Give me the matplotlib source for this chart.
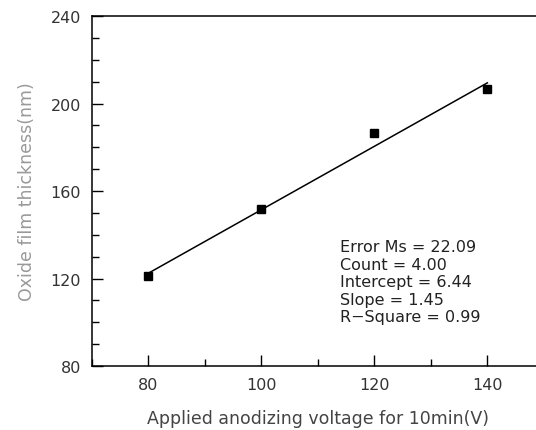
import matplotlib.pyplot as plt
import numpy as np
from matplotlib.ticker import MultipleLocator

voltage = [80, 100, 120, 140]
thickness = [121.0, 151.8, 186.5, 206.6]

stat_names = ['Error Ms', 'Count', 'Intercept', 'Slope', 'R\u2212Square']
stat_values = [22.09, 4.00, 6.44, 1.45, 0.99]

intercept = stat_values[2]
slope = stat_values[3]

fig = plt.figure(figsize=(5.36, 4.31), dpi=100)
ax = fig.add_axes([0.1716, 0.1485, 0.843, 0.812])

fit_x = np.array([voltage[0], voltage[-1]])
ax.plot(fit_x, intercept + slope * fit_x, color='black', lw=1.1)
ax.plot(voltage, thickness, 's', color='black', ms=6)

ax.set_xlim(70, 150)
ax.set_ylim(80, 240)
ax.xaxis.set_major_locator(MultipleLocator(20))
ax.xaxis.set_minor_locator(MultipleLocator(10))
ax.yaxis.set_major_locator(MultipleLocator(40))
ax.yaxis.set_minor_locator(MultipleLocator(10))
ax.tick_params(which='both', direction='in', top=False, right=False,
               labelsize=11.5, colors='black', pad=8)
ax.tick_params(which='major', length=8, width=1)
ax.tick_params(which='minor', length=5, width=1)
for s in ax.spines.values():
    s.set_linewidth(1.1)

ax.set_xticks([80, 100, 120, 140])
ax.tick_params(axis='x', labelcolor='#333333')
ax.tick_params(axis='y', labelcolor='#333333')

ax.set_xlabel('Applied anodizing voltage for 10min(V)', fontsize=12.5,
              color='#444444', labelpad=12)
ax.set_ylabel('Oxide film thickness(nm)', fontsize=12.5, color='#999999',
              labelpad=10)

lines = [f'{n} = {v:.2f}' for n, v in zip(stat_names, stat_values)]
ax.text(0.55, 0.362, '\n'.join(lines), transform=ax.transAxes,
        fontsize=11.5, va='top', ha='left', linespacing=1.2, color='#222222')

fig.savefig('out.png', dpi=100)
